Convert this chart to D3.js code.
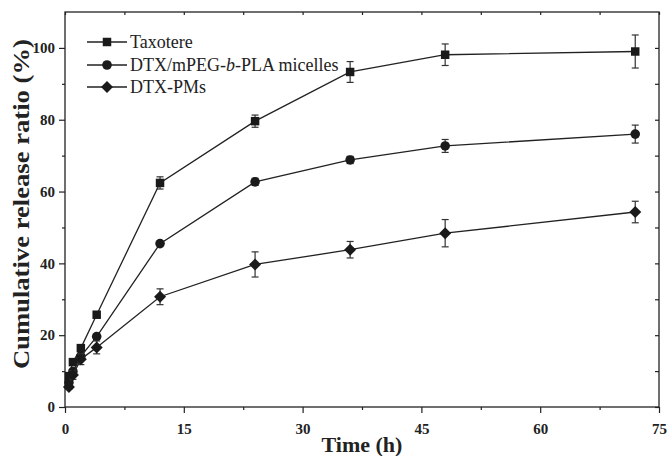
<!DOCTYPE html>
<html><head><meta charset="utf-8">
<script src="https://cdn.jsdelivr.net/npm/d3@7"></script>
<style>body{margin:0;background:#fff}text{font-family:"Liberation Serif","Times New Roman",serif;fill:#222}</style>
</head><body><svg id="c" width="668" height="456"></svg>
<script>
const times = [0.5, 1, 2, 4, 12, 24, 36, 48, 72];
const taxotere = [8.6, 12.5, 16.4, 25.7, 62.4, 79.6, 93.3, 98.1, 99.0];
const taxotereErr = [0.6, 0.6, 0.8, 0.8, 1.7, 1.7, 2.9, 3.0, 4.6];
const micelles = [6.8, 9.9, 14.1, 19.6, 45.5, 62.7, 68.8, 72.7, 76.0];
const micellesErr = [0.5, 0.5, 0.6, 0.6, 0.5, 1.0, 1.0, 1.8, 2.5];
const pms = [5.6, 8.9, 13.3, 16.6, 30.7, 39.7, 43.8, 48.4, 54.3];
const pmsErr = [0.6, 1.2, 1.5, 1.8, 2.2, 3.5, 2.3, 3.8, 3.0];
const seriesNames = ["Taxotere", "DTX/mPEG-b-PLA micelles", "DTX-PMs"];
const xTicks = [0, 15, 30, 45, 60, 75];
const yTicks = [0, 20, 40, 60, 80, 100];

const svg = d3.select("#c");
const L = 65, R = 659, T = 12, B = 407;
const x = d3.scaleLinear().domain([0, 75]).range([L, R]);
const y = d3.scaleLinear().domain([0, 110]).range([B, T]);
const col = "#222";

svg.append("rect").attr("x", L).attr("y", T).attr("width", R - L).attr("height", B - T)
  .attr("fill", "none").attr("stroke", col).attr("stroke-width", 1.3);

const styleTicks = g => { g.select(".domain").remove(); g.selectAll("line").attr("stroke", col).attr("stroke-width", 1.2); };

const xMinor = d3.range(7.5, 75, 15);
const gx = svg.append("g").attr("transform", `translate(0,${B})`)
  .call(d3.axisBottom(x).tickValues(xTicks).tickSize(6).tickPadding(10)).call(styleTicks);
gx.selectAll("text").attr("font-size", 15).attr("font-weight", "bold");
svg.append("g").attr("transform", `translate(0,${B})`)
  .call(d3.axisBottom(x).tickValues(xMinor).tickSize(3).tickFormat("")).call(styleTicks);
svg.append("g").attr("transform", `translate(0,${T})`)
  .call(d3.axisBottom(x).tickValues(xTicks.concat(xMinor)).tickSize(3).tickFormat("")).call(styleTicks);

const yMinor = d3.range(10, 110, 20);
const gy = svg.append("g").attr("transform", `translate(${L},0)`)
  .call(d3.axisLeft(y).tickValues(yTicks).tickSize(6).tickPadding(4)).call(styleTicks);
gy.selectAll("text").attr("font-size", 15).attr("font-weight", "bold");
svg.append("g").attr("transform", `translate(${L},0)`)
  .call(d3.axisLeft(y).tickValues(yMinor).tickSize(3).tickFormat("")).call(styleTicks);
svg.append("g").attr("transform", `translate(${R},0)`)
  .call(d3.axisLeft(y).tickValues(yTicks.concat(yMinor)).tickSize(4).tickFormat("")).call(styleTicks);

svg.append("text").attr("x", x(37.5)).attr("y", 452).attr("text-anchor", "middle")
  .attr("font-size", 22).attr("font-weight", "bold").text("Time (h)");
svg.append("text").attr("transform", `translate(29,${y(56.5)}) rotate(-90)`).attr("text-anchor", "middle")
  .attr("font-size", 23).attr("font-weight", "bold")
  .attr("textLength", 330).attr("lengthAdjust", "spacingAndGlyphs").text("Cumulative release ratio (%)");

const diamond = { draw(ctx, size) { const r = Math.sqrt(size / 2); ctx.moveTo(0, -r); ctx.lineTo(r, 0); ctx.lineTo(0, r); ctx.lineTo(-r, 0); ctx.closePath(); } };
const symbols = [d3.symbolSquare, d3.symbolCircle, diamond];
const sizes = [72, 72, 72];
const data = [[taxotere, taxotereErr], [micelles, micellesErr], [pms, pmsErr]];
const line = d3.line().x(d => x(d[0])).y(d => y(d[1]));

data.forEach(([vals, errs], i) => {
  const pts = times.map((t, j) => [t, vals[j], errs[j]]);
  const g = svg.append("g");
  g.append("path").datum(pts).attr("d", line).attr("fill", "none").attr("stroke", col).attr("stroke-width", 1.3);
  const eb = g.selectAll(".eb").data(pts).enter().append("g").attr("stroke", "#333").attr("stroke-width", 1.2);
  eb.append("line").attr("x1", d => x(d[0])).attr("x2", d => x(d[0])).attr("y1", d => y(d[1] - d[2])).attr("y2", d => y(d[1] + d[2]));
  eb.append("line").attr("x1", d => x(d[0]) - 3.5).attr("x2", d => x(d[0]) + 3.5).attr("y1", d => y(d[1] + d[2])).attr("y2", d => y(d[1] + d[2]));
  eb.append("line").attr("x1", d => x(d[0]) - 3.5).attr("x2", d => x(d[0]) + 3.5).attr("y1", d => y(d[1] - d[2])).attr("y2", d => y(d[1] - d[2]));
  g.selectAll(".m").data(pts).enter().append("path")
    .attr("d", d3.symbol().type(symbols[i]).size(sizes[i]))
    .attr("transform", d => `translate(${x(d[0])},${y(d[1])})`).attr("fill", "#1a1a1a");
});

const legY = [42, 65, 87];
seriesNames.forEach((name, i) => {
  const g = svg.append("g");
  g.append("line").attr("x1", 87).attr("x2", 127).attr("y1", legY[i]).attr("y2", legY[i]).attr("stroke", col).attr("stroke-width", 1.3);
  g.append("path").attr("d", d3.symbol().type(symbols[i]).size(sizes[i])).attr("transform", `translate(107,${legY[i]})`).attr("fill", "#1a1a1a");
  const t = g.append("text").attr("x", 130).attr("y", legY[i] + 6).attr("font-size", 18);
  if (name.includes("-b-")) {
    const parts = name.split("-b-");
    t.append("tspan").text(parts[0] + "-");
    t.append("tspan").attr("font-style", "italic").text("b");
    t.append("tspan").text("-" + parts[1]);
  } else t.text(name);
});
</script></body></html>
